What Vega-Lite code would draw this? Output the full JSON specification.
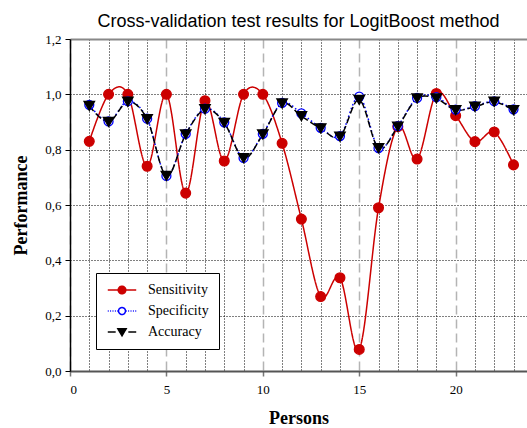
{
  "$schema": "https://vega.github.io/schema/vega-lite/v6.json",
  "width": 457,
  "height": 332,
  "autosize": {"type": "none"},
  "padding": {"left": 70, "top": 39, "right": 0, "bottom": 57},
  "background": "white",
  "title": {"text": "Cross-validation test results for LogitBoost method", "font": "Liberation Sans", "fontSize": 18, "fontWeight": "normal", "color": "#000", "anchor": "middle", "offset": 2},
  "config": {"view": {"stroke": null}},
  "data": {"values": [
    {"person": 1, "metric": "Sensitivity", "value": 0.83},
    {"person": 2, "metric": "Sensitivity", "value": 1.0},
    {"person": 3, "metric": "Sensitivity", "value": 1.0},
    {"person": 4, "metric": "Sensitivity", "value": 0.74},
    {"person": 5, "metric": "Sensitivity", "value": 1.0},
    {"person": 6, "metric": "Sensitivity", "value": 0.643},
    {"person": 7, "metric": "Sensitivity", "value": 0.977},
    {"person": 8, "metric": "Sensitivity", "value": 0.759},
    {"person": 9, "metric": "Sensitivity", "value": 1.0},
    {"person": 10, "metric": "Sensitivity", "value": 1.0},
    {"person": 11, "metric": "Sensitivity", "value": 0.823},
    {"person": 12, "metric": "Sensitivity", "value": 0.549},
    {"person": 13, "metric": "Sensitivity", "value": 0.269},
    {"person": 14, "metric": "Sensitivity", "value": 0.337},
    {"person": 15, "metric": "Sensitivity", "value": 0.078},
    {"person": 16, "metric": "Sensitivity", "value": 0.59},
    {"person": 17, "metric": "Sensitivity", "value": 0.883},
    {"person": 18, "metric": "Sensitivity", "value": 0.766},
    {"person": 19, "metric": "Sensitivity", "value": 1.003},
    {"person": 20, "metric": "Sensitivity", "value": 0.923},
    {"person": 21, "metric": "Sensitivity", "value": 0.829},
    {"person": 22, "metric": "Sensitivity", "value": 0.864},
    {"person": 23, "metric": "Sensitivity", "value": 0.745},
    {"person": 1, "metric": "Specificity", "value": 0.962},
    {"person": 2, "metric": "Specificity", "value": 0.902},
    {"person": 3, "metric": "Specificity", "value": 0.975},
    {"person": 4, "metric": "Specificity", "value": 0.912},
    {"person": 5, "metric": "Specificity", "value": 0.705},
    {"person": 6, "metric": "Specificity", "value": 0.857},
    {"person": 7, "metric": "Specificity", "value": 0.948},
    {"person": 8, "metric": "Specificity", "value": 0.899},
    {"person": 9, "metric": "Specificity", "value": 0.77},
    {"person": 10, "metric": "Specificity", "value": 0.857},
    {"person": 11, "metric": "Specificity", "value": 0.969},
    {"person": 12, "metric": "Specificity", "value": 0.931},
    {"person": 13, "metric": "Specificity", "value": 0.879},
    {"person": 14, "metric": "Specificity", "value": 0.849},
    {"person": 15, "metric": "Specificity", "value": 0.992},
    {"person": 16, "metric": "Specificity", "value": 0.806},
    {"person": 17, "metric": "Specificity", "value": 0.885},
    {"person": 18, "metric": "Specificity", "value": 0.987},
    {"person": 19, "metric": "Specificity", "value": 0.99},
    {"person": 20, "metric": "Specificity", "value": 0.945},
    {"person": 21, "metric": "Specificity", "value": 0.957},
    {"person": 22, "metric": "Specificity", "value": 0.975},
    {"person": 23, "metric": "Specificity", "value": 0.946},
    {"person": 1, "metric": "Accuracy", "value": 0.958},
    {"person": 2, "metric": "Accuracy", "value": 0.9},
    {"person": 3, "metric": "Accuracy", "value": 0.973},
    {"person": 4, "metric": "Accuracy", "value": 0.91},
    {"person": 5, "metric": "Accuracy", "value": 0.705},
    {"person": 6, "metric": "Accuracy", "value": 0.855},
    {"person": 7, "metric": "Accuracy", "value": 0.946},
    {"person": 8, "metric": "Accuracy", "value": 0.897},
    {"person": 9, "metric": "Accuracy", "value": 0.769},
    {"person": 10, "metric": "Accuracy", "value": 0.855},
    {"person": 11, "metric": "Accuracy", "value": 0.967},
    {"person": 12, "metric": "Accuracy", "value": 0.921},
    {"person": 13, "metric": "Accuracy", "value": 0.877},
    {"person": 14, "metric": "Accuracy", "value": 0.847},
    {"person": 15, "metric": "Accuracy", "value": 0.98},
    {"person": 16, "metric": "Accuracy", "value": 0.805},
    {"person": 17, "metric": "Accuracy", "value": 0.883},
    {"person": 18, "metric": "Accuracy", "value": 0.985},
    {"person": 19, "metric": "Accuracy", "value": 0.985},
    {"person": 20, "metric": "Accuracy", "value": 0.943},
    {"person": 21, "metric": "Accuracy", "value": 0.955},
    {"person": 22, "metric": "Accuracy", "value": 0.973},
    {"person": 23, "metric": "Accuracy", "value": 0.943}
  ]},
  "encoding": {
    "x": {
      "field": "person", "type": "quantitative",
      "scale": {"domain": [0, 23.7], "nice": false, "zero": false},
      "axis": {
        "values": [0,1,2,3,4,5,6,7,8,9,10,11,12,13,14,15,16,17,18,19,20,21,22,23],
        "grid": true,
        "gridColor": {"condition": {"test": "datum.value % 5 === 0", "value": "#b4b4b4"}, "value": "#000000"},
        "gridDash": {"condition": {"test": "datum.value % 5 === 0", "value": [9, 5]}, "value": [1, 2]},
        "gridWidth": {"condition": {"test": "datum.value % 5 === 0", "value": 1.5}, "value": 1},
        "ticks": true,
        "tickColor": "#777777",
        "tickOpacity": {"condition": {"test": "datum.value % 5 === 0", "value": 1}, "value": 0},
        "tickSize": 5,
        "tickWidth": 1.5,
        "labelExpr": "datum.value % 5 === 0 ? datum.label : ''",
        "labelFont": "Liberation Serif",
        "labelFontSize": 13,
        "labelColor": "#000000",
        "labelPadding": 7,
        "domainColor": "#555555",
        "domainWidth": 2,
        "title": "Persons",
        "titleFont": "Liberation Serif",
        "titleFontSize": 18,
        "titleFontWeight": "bold",
        "titleColor": "#000000",
        "titlePadding": 13
      }
    },
    "y": {
      "field": "value", "type": "quantitative",
      "scale": {"domain": [0, 1.2], "nice": false},
      "axis": {
        "values": [0, 0.2, 0.4, 0.6, 0.8, 1.0, 1.2],
        "grid": true,
        "gridColor": {"condition": {"test": "datum.value > 1.1", "value": "#888888"}, "value": "#000000"},
        "gridDash": {"condition": {"test": "datum.value > 1.1", "value": [1, 0]}, "value": [1, 2]},
        "gridWidth": {"condition": {"test": "datum.value > 1.1", "value": 2}, "value": 1},
        "tickColor": "#000000",
        "tickSize": 5,
        "labelExpr": "replace(format(datum.value, '.1f'), '.', ',')",
        "labelFont": "Liberation Serif",
        "labelFontSize": 13,
        "labelColor": "#000000",
        "labelPadding": 4,
        "domainColor": "#000000",
        "domainWidth": 1.5,
        "title": "Performance",
        "titleFont": "Liberation Serif",
        "titleFontSize": 18,
        "titleFontWeight": "bold",
        "titleColor": "#000000",
        "titlePadding": 14
      }
    }
  },
  "layer": [
    {
      "mark": {"type": "line", "interpolate": "cardinal", "strokeWidth": 1.5},
      "encoding": {
        "color": {
          "field": "metric", "type": "nominal",
          "scale": {"domain": ["Sensitivity", "Specificity", "Accuracy"], "range": ["#cc0000", "#0000ff", "#000000"]},
          "legend": {
            "orient": "none", "legendX": 26, "legendY": 234,
            "title": null,
            "fillColor": "#ffffff", "strokeColor": "#000000",
            "padding": 10,
            "labelFont": "Liberation Serif", "labelFontSize": 14, "labelColor": "#000000",
            "symbolSize": 64, "symbolOffset": 9, "labelOffset": 19, "rowPadding": 7,
            "encode": {
              "symbols": {
                "update": {
                  "shape": {"signal": "datum.value === 'Sensitivity' ? 'M-4.5,0H4.5M-1.2,0a1.2,1.2 0 1,0 2.4,0a1.2,1.2 0 1,0 -2.4,0' : datum.value === 'Specificity' ? 'M-4.5,0h0.3M-3.75,0h0.3M-3,0h0.3M-2.25,0h0.3M-1.5,0h0.3M1.2,0h0.3M1.95,0h0.3M2.7,0h0.3M3.45,0h0.3M4.2,0h0.3M-1.1,0a1.1,1.1 0 1,0 2.2,0a1.1,1.1 0 1,0 -2.2,0' : 'M-4.5,0H-2M2,0H4.5M-1.3,-1L1.3,-1L0,1.2Z'"},
                  "fill": {"signal": "datum.value === 'Sensitivity' ? '#cc0000' : datum.value === 'Specificity' ? '#ffffff' : '#000000'"},
                  "strokeWidth": {"value": 1.5},
                  "strokeDash": {"value": [1, 0]},
                  "size": {"value": 40},
                  "opacity": {"value": 1}
                }
              }
            }
          }
        },
        "strokeDash": {"field": "metric", "type": "nominal", "scale": {"domain": ["Accuracy", "Sensitivity", "Specificity"], "range": [[7, 3], [1, 0], [1.5, 2.5]]}, "legend": null}
      }
    },
    {
      "mark": {"type": "point", "filled": true, "opacity": 1, "strokeWidth": 1.3},
      "encoding": {
        "fill": {"field": "metric", "type": "nominal", "scale": {"domain": ["Accuracy", "Sensitivity", "Specificity"], "range": ["#000000", "#cc0000", "#ffffff"]}, "legend": null},
        "stroke": {"field": "metric", "type": "nominal", "scale": {"domain": ["Accuracy", "Sensitivity", "Specificity"], "range": ["#000000", "#cc0000", "#0000ff"]}, "legend": null},
        "size": {"field": "metric", "type": "ordinal", "scale": {"domain": ["Accuracy", "Sensitivity", "Specificity"], "range": [110, 80, 80]}, "legend": null},
        "shape": {"field": "metric", "type": "nominal", "scale": {"domain": ["Accuracy", "Sensitivity", "Specificity"], "range": ["triangle-down", "circle", "circle"]}, "legend": null}
      }
    }
  ]
}
